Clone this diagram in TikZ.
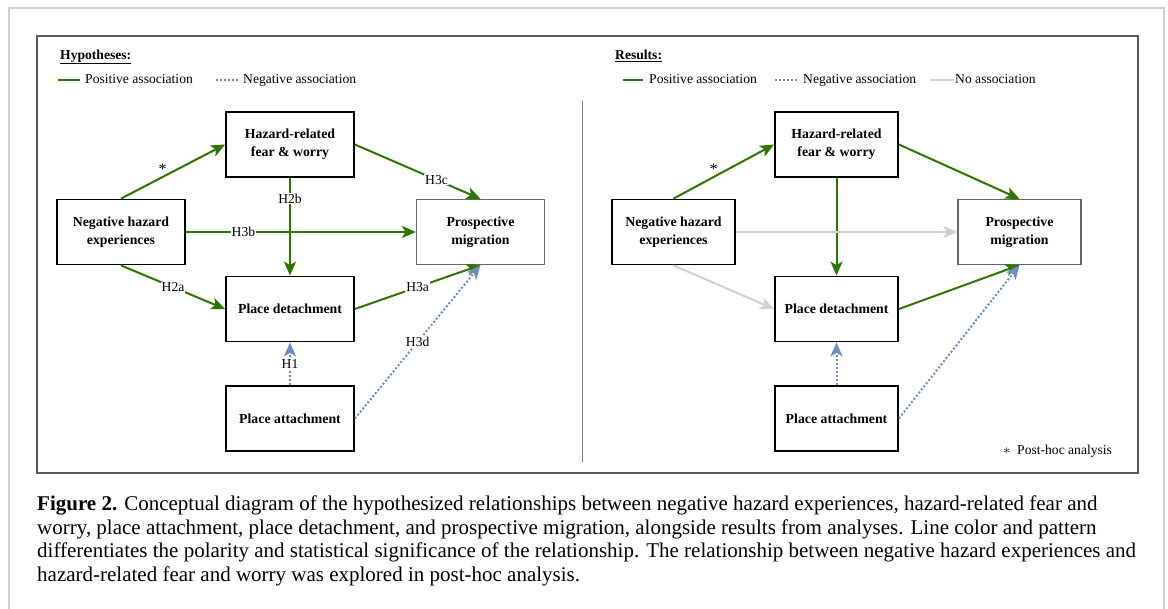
\documentclass[tikz,border=0pt]{standalone}
\usepackage{fontspec}
\setmainfont{Liberation Serif}
\usetikzlibrary{arrows.meta, positioning}
\definecolor{posgreen}{HTML}{2D7600}
\definecolor{negblue}{HTML}{6C8EBF}
\definecolor{nogray}{HTML}{D0D0D0}
\definecolor{framegray}{HTML}{5A5A5A}
\definecolor{pagegray}{HTML}{CFCFCF}
\definecolor{prospgray}{HTML}{666666}
\tikzset{
  varbox/.style={draw, line width=1.8pt, minimum width=128pt, minimum height=65pt,
    align=center, font=\fontsize{13.8}{18}\selectfont\bfseries},
  prospbox/.style={varbox, draw=prospgray, line width=1.2pt},
  poscol/.style={posgreen, line width=2pt},
  negcol/.style={negblue, line width=2pt, dash pattern=on 2pt off 2pt},
  nocol/.style={nogray, line width=2pt},
  tip/.style={-{Stealth[length=14pt, width=12pt, inset=3.5pt]}},
  posline/.style={poscol, tip},
  negline/.style={negcol, tip},
  noline/.style={nocol, tip},
  hlabel/.style={fill=white, inner sep=1pt, text=black, font=\fontsize{13.6}{16}\selectfont},
  starlabel/.style={inner sep=1pt, text=black, font=\fontsize{16}{16}\selectfont},
  legtxt/.style={anchor=west, inner sep=0pt, text height=6.5pt, text depth=0pt,
    font=\fontsize{13.6}{16}\selectfont}
}
\begin{document}
\begin{tikzpicture}[x=1pt, y=-1pt]
  \useasboundingbox (0,0) rectangle (1168,609);
  % page and figure frames
  \draw[pagegray, line width=1.5pt] (9,609) -- (9,8) -- (1164,8) -- (1164,609);
  \draw[framegray, line width=1.2pt] (37,36) rectangle (1138,473);
  \draw[gray, line width=0.8pt] (582,101) -- (582,462);

  % Hypotheses legend
  \node[legtxt] (lhyp) at (60,56) {\underline{\textbf{Hypotheses:}}};
  \node[legtxt] (lpostxt) at (85,80) {Positive association};
  \node[legtxt] (lnegtxt) at (243,80) {Negative association};
  \draw[poscol] ([xshift=-27pt]lpostxt.west) -- ([xshift=-5pt]lpostxt.west);
  \draw[negcol] ([xshift=-27pt]lnegtxt.west) -- ([xshift=-3pt]lnegtxt.west);

  % Hypotheses boxes
  \node[varbox] (lneg) at (121,232) {Negative hazard\\experiences};
  \node[varbox] (lfear) at (290,144.5) {Hazard-related\\fear \& worry};
  \node[prospbox] (lprosp) at (480.5,232) {Prospective\\migration};
  \node[varbox] (ldetach) at (290,309) {Place detachment};
  \node[varbox] (lattach) at (290,418.5) {Place attachment};

  % Hypotheses paths
  \draw[posline] (lneg.north) -- node[pos=0.4, above, starlabel]{*} (lfear.west);
  \draw[posline] (lfear.east) -- node[pos=0.65, hlabel]{H3c} (lprosp.north);
  \draw[posline] (lfear.south) -- node[pos=0.21, hlabel]{H2b} (ldetach.north);
  \draw[posline] (lneg.east) -- node[pos=0.25, hlabel]{H3b} (lprosp.west);
  \draw[posline] (lneg.south) -- node[pos=0.5, hlabel]{H2a} (ldetach.west);
  \draw[posline] (ldetach.east) -- node[pos=0.5, hlabel]{H3a} (lprosp.south);
  \draw[negline] (lattach.north) -- node[pos=0.5, hlabel]{H1} (ldetach.south);
  \draw[negline] (lattach.east) -- node[pos=0.5, hlabel]{H3d} (lprosp.south);

  % Results legend
  \node[legtxt] (rres) at (615,56) {\underline{\textbf{Results:}}};
  \node[legtxt] (rpostxt) at (649,80) {Positive association};
  \node[legtxt] (rnegtxt) at (803,80) {Negative association};
  \node[legtxt] (rnotxt) at (955,80) {No association};
  \draw[poscol] ([xshift=-26pt]rpostxt.west) -- ([xshift=-6pt]rpostxt.west);
  \draw[negcol] ([xshift=-28pt]rnegtxt.west) -- ([xshift=-6pt]rnegtxt.west);
  \draw[nocol] ([xshift=-25pt]rnotxt.west) -- ([xshift=-1pt]rnotxt.west);

  % Results boxes
  \node[varbox, minimum width=123pt] (rneg) at (673.5,232) {Negative hazard\\experiences};
  \node[varbox, minimum width=123pt] (rfear) at (836.5,144.5) {Hazard-related\\fear \& worry};
  \node[prospbox, minimum width=123pt] (rprosp) at (1019.5,232) {Prospective\\migration};
  \node[varbox, minimum width=123pt] (rdetach) at (836.5,309) {Place detachment};
  \node[varbox, minimum width=123pt] (rattach) at (836.5,418.5) {Place attachment};

  % Results paths
  \draw[posline] (rneg.north) -- node[pos=0.4, above, starlabel]{*} (rfear.west);
  \draw[posline] (rfear.east) -- (rprosp.north);
  \draw[posline] (rfear.south) -- (rdetach.north);
  \draw[noline] (rneg.east) -- (rprosp.west);
  \draw[noline] (rneg.south) -- (rdetach.west);
  \draw[posline] (rdetach.east) -- (rprosp.south);
  \draw[negline] (rattach.north) -- (rdetach.south);
  \draw[negline] (rattach.east) -- (rprosp.south);
  \node[legtxt] (posthoc) at (1003,451) {$\ast$\ \ Post-hoc analysis};

  % caption
  \node[anchor=north west, inner sep=0pt, align=left, font=\fontsize{21}{23.5}\selectfont] (caption) at (37,496)
    {\textbf{Figure 2.} Conceptual diagram of the hypothesized relationships between negative hazard experiences, hazard-related fear and\\
     worry, place attachment, place detachment, and prospective migration, alongside results from analyses. Line color and pattern\\
     differentiates the polarity and statistical significance of the relationship. The relationship between negative hazard experiences and\\
     hazard-related fear and worry was explored in post-hoc analysis.};
\end{tikzpicture}
\end{document}
